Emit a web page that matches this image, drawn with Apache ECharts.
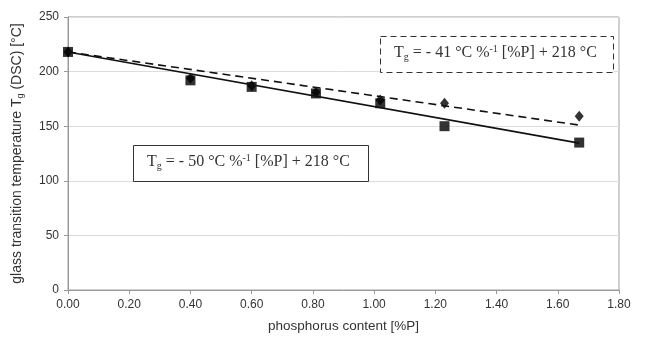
<!DOCTYPE html>
<html>
<head>
<meta charset="utf-8">
<script src="https://cdn.jsdelivr.net/npm/echarts@6/dist/echarts.min.js"></script>
<style>
  html, body { margin: 0; padding: 0; background: #fff; }
  #chart { width: 646px; height: 345px; }
</style>
</head>
<body>
<div id="chart"></div>
<script>
// measured points
var phosphorus = [0.00, 0.40, 0.60, 0.81, 1.02, 1.23, 1.67];
var tgSquares  = [218, 192, 186, 180, 171, 150, 135];
var tgDiamonds = [218, 194, 187, 181, 174, 171, 159];

// linear fits (end points)
var fitSolidX = [0, 1.67];
var fitSolidY = [218, 134.5];
var fitDashX  = [0, 1.67];
var fitDashY  = [218, 151];

var xTicks = ['0.00','0.20','0.40','0.60','0.80','1.00','1.20','1.40','1.60','1.80'];

function pairs(xs, ys) {
    return xs.map(function (x, i) { return [x, ys[i]]; });
}

var chart = echarts.init(document.getElementById('chart'));

var eqRich = {
    a: { fontFamily: 'Liberation Serif', fontSize: 16, fill: '#333' },
    s: { fontFamily: 'Liberation Serif', fontSize: 10, fill: '#333', padding: [8, 0, 0, 0] },
    p: { fontFamily: 'Liberation Serif', fontSize: 10, fill: '#333', padding: [0, 0, 8, 0] }
};

var option = {
    animation: false,
    grid: {
        left: 68, right: 27, top: 17, bottom: 55,
        show: true, borderColor: '#a0a0a0', borderWidth: 1
    },
    xAxis: {
        type: 'value', min: 0, max: 1.8, interval: 0.2,
        name: 'phosphorus content [%P]',
        nameLocation: 'middle', nameGap: 29,
        nameTextStyle: { fontFamily: 'Liberation Sans', fontSize: 13.5, color: '#333' },
        axisLine: { lineStyle: { color: '#999' } },
        axisTick: { show: true, length: 4, lineStyle: { color: '#999' } },
        axisLabel: {
            fontFamily: 'Liberation Sans', fontSize: 12, color: '#333', margin: 9,
            formatter: function (v) { return xTicks[Math.round(v / 0.2)]; }
        },
        splitLine: { show: false }
    },
    yAxis: {
        type: 'value', min: 0, max: 250, interval: 50,
        name: '{a|glass transition temperature T}{s|g}{a| (DSC) [°C]}',
        nameLocation: 'middle', nameGap: 43, nameRotate: 90,
        nameTextStyle: {
            rich: {
                a: { fontFamily: 'Liberation Sans', fontSize: 14, color: '#333' },
                s: { fontFamily: 'Liberation Sans', fontSize: 9, color: '#333', padding: [7, 0, 0, 0] }
            }
        },
        axisLine: { show: true, lineStyle: { color: '#999' } },
        axisTick: { show: true, length: 4, lineStyle: { color: '#999' } },
        axisLabel: { fontFamily: 'Liberation Sans', fontSize: 12, color: '#333', margin: 9 },
        splitLine: { show: true, lineStyle: { color: '#dcdcdc' } }
    },
    series: [
        {
            type: 'line', data: pairs(fitDashX, fitDashY),
            symbol: 'none', lineStyle: { color: '#111', width: 1.6, type: [8, 5] }
        },
        {
            type: 'line', data: pairs(fitSolidX, fitSolidY),
            symbol: 'none', lineStyle: { color: '#111', width: 1.6 }
        },
        {
            type: 'scatter', data: pairs(phosphorus, tgDiamonds),
            symbol: 'diamond', symbolSize: [9, 11],
            itemStyle: { color: '#000' }
        },
        {
            type: 'scatter', data: pairs(phosphorus, tgSquares),
            symbol: 'rect', symbolSize: 10,
            itemStyle: { color: '#000' }
        }
    ],
    graphic: [
        {
            type: 'rect', left: 380, top: 36, z: 100,
            shape: { width: 233, height: 36 },
            style: { fill: '#fff', stroke: '#333', lineWidth: 1, lineDash: [6, 4] }
        },
        {
            type: 'text', left: 394, top: 44, z: 101,
            style: {
                text: '{a|T}{s|g}{a| = - 41 °C %}{p|-1}{a| [%P] + 218 °C}',
                rich: eqRich
            }
        },
        {
            type: 'rect', left: 133, top: 145, z: 100,
            shape: { width: 235, height: 36 },
            style: { fill: '#fff', stroke: '#333', lineWidth: 1 }
        },
        {
            type: 'text', left: 147, top: 153, z: 101,
            style: {
                text: '{a|T}{s|g}{a| = - 50 °C %}{p|-1}{a| [%P] + 218 °C}',
                rich: eqRich
            }
        }
    ]
};

chart.setOption(option);
</script>
</body>
</html>
